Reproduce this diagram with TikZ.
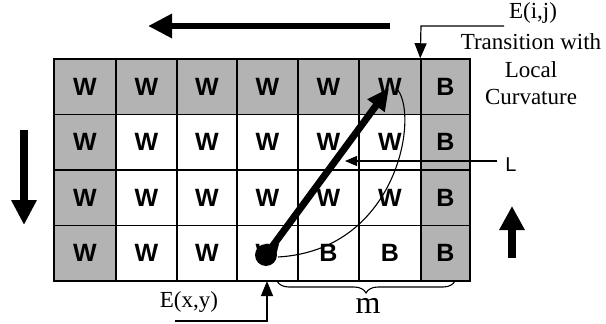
\documentclass[tikz,border=0pt]{standalone}
\usepackage{fontspec}
\setmainfont{Liberation Serif}
\newfontfamily\arialfont{Liberation Sans}
\usetikzlibrary{arrows.meta,decorations.pathreplacing}
\definecolor{cellgray}{RGB}{179,179,179}
\begin{document}
\begin{tikzpicture}[x=1pt,y=-1pt,
  cell/.style={draw=black, line width=1.5pt, inner sep=0pt, minimum height=55.5pt,
    font=\arialfont\bfseries\fontsize{25}{25}\selectfont},
  bigarrow/.style={line width=#1},
  thinline/.style={line width=1.2pt},
  thinhead/.style={-{Triangle[length=15pt,width=12pt]}},
  serif/.style={font=\fontsize{23}{27.5}\selectfont, inner sep=0pt, align=center}]
\useasboundingbox (0,0) rectangle (606,324);
% grid rows
\foreach \r/\yt/\yb in {1/59/114.5} {
  \foreach \c/\xl/\xr/\L in {1/54/116/W,2/116/177/W,3/177/237/W,4/237/298/W,5/298/359/W,6/359/421/W,7/421/470/B}
    \node[cell, fill=cellgray, minimum width={(\xr-\xl)*1pt}] (c\r\c) at ({(\xl+\xr)/2},{(\yt+\yb)/2}) {\L};
}
\foreach \r/\yt/\yb in {2/114.5/170, 3/170/225.5} {
  \foreach \c/\xl/\xr/\L/\f in {1/54/116/W/cellgray,2/116/177/W/white,3/177/237/W/white,4/237/298/W/white,5/298/359/W/white,6/359/421/W/white,7/421/470/B/cellgray}
    \node[cell, fill=\f, minimum width={(\xr-\xl)*1pt}] (c\r\c) at ({(\xl+\xr)/2},{(\yt+\yb)/2}) {\L};
}
\foreach \r/\yt/\yb in {4/225.5/281} {
  \foreach \c/\xl/\xr/\L/\f in {1/54/116/W/cellgray,2/116/177/W/white,3/177/237/W/white,4/237/298/W/white,5/298/359/B/white,6/359/421/B/white,7/421/470/B/cellgray}
    \node[cell, fill=\f, minimum width={(\xr-\xl)*1pt}] (c\r\c) at ({(\xl+\xr)/2},{(\yt+\yb)/2}) {\L};
}
% big direction arrows
\coordinate (topS) at (390,26); \coordinate (topE) at (148,26);
\draw[bigarrow=6pt, -{Triangle[length=24pt,width=23pt]}] (topS) -- (topE);
\coordinate (leftS) at (24,130); \coordinate (leftE) at (24,225);
\draw[bigarrow=8pt, -{Triangle[length=25pt,width=24pt]}] (leftS) -- (leftE);
\coordinate (rightS) at (512,258); \coordinate (rightE) at (512,206);
\draw[bigarrow=8pt, -{Triangle[length=24pt,width=24pt]}] (rightS) -- (rightE);
% curve
\coordinate (curS) at (278,257); \coordinate (curE) at (396,88);
\draw[line width=1.1pt] (curS) .. controls (400,250) and (420,110) .. (curE);
% dot and diagonal
\node[circle, fill=black, minimum size=22pt, inner sep=0pt] (dot) at (266,255) {};
\coordinate (diagE) at (389,88);
\draw[bigarrow=7pt, -{Triangle[length=22pt,width=20pt]}] (dot.center) -- (diagE);
% labels
\node[serif] (eij) at (533,13) {E(i,j)};
\node[serif] (trans) at (531,69.5) {Transition with\\Local\\Curvature};
\coordinate (eijA) at (504,26); \coordinate (eijB) at (421,26);
\draw[thinline, thinhead] (eijA) -- (eijB) -- (c17.north west);
\node[font=\arialfont\fontsize{20}{20}\selectfont, inner sep=0pt] (lab) at (511,165) {L};
\coordinate (lS) at (497,161); \coordinate (lE) at (345,161);
\draw[thinline, -{Triangle[length=12pt,width=10pt]}] (lS) -- (lE);
\node[serif] (exy) at (189,302) {E(x,y)};
\coordinate (exyA) at (175,321); \coordinate (exyB) at (267,321); \coordinate (exyC) at (267,281);
\draw[thinline, thinhead] (exyA) -- (exyB) -- (exyC);
\coordinate (brL) at (277,281); \coordinate (brR) at (455,281);
\draw[line width=1.1pt, decorate, decoration={brace, amplitude=12pt}] (brR) -- (brL);
\node[font=\fontsize{32}{32}\selectfont, inner sep=0pt] (m) at (368,306) {m};
\end{tikzpicture}
\end{document}
